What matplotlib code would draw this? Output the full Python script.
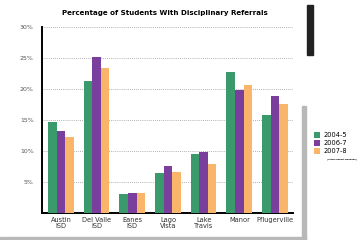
import matplotlib.pyplot as plt
import numpy as np
from matplotlib.patches import Rectangle

districts = ['Austin\nISD', 'Del Valle\nISD', 'Eanes\nISD', 'Lago\nVista', 'Lake\nTravis', 'Manor', 'Pflugerville']
years = ['2004-5', '2006-7', '2007-8']
y2004 = [14.6, 21.3, 3.1, 6.5, 9.5, 22.8, 15.8]
y2006 = [13.2, 25.2, 3.2, 7.6, 9.8, 19.9, 18.9]
y2007 = [12.3, 23.4, 3.3, 6.6, 7.9, 20.7, 17.6]
colors = ['#3a9a6c', '#7a3e9d', '#f9b66b']

fig = plt.figure(figsize=(3.62, 2.40), dpi=100)
fig.patch.set_facecolor('white')

# card shadow / binding strip
fig.patches.append(Rectangle((0.835, 0.0), 0.01, 0.56, transform=fig.transFigure,
                             color='#b8b8b8', zorder=0))
fig.patches.append(Rectangle((0.0, 0.0), 0.845, 0.012, transform=fig.transFigure,
                             color='#b8b8b8', zorder=0))
fig.patches.append(Rectangle((0.848, 0.77), 0.017, 0.21, transform=fig.transFigure,
                             color='#222222', zorder=0))

ax = fig.add_axes([0.116, 0.1125, 0.693, 0.775])
x = np.arange(len(districts))
w = 0.24
for i, (vals, c) in enumerate(zip([y2004, y2006, y2007], colors)):
    ax.bar(x + (i - 1) * w, vals, w, color=c, label=years[i], zorder=3)

ax.set_xlim(-0.53, 6.5)
ax.set_ylim(0, 30)
ax.set_yticks([5, 10, 15, 20, 25, 30])
ax.set_yticklabels(['5%', '10%', '15%', '20%', '25%', '30%'])
ax.set_xticks(x)
ax.set_xticklabels(districts, fontsize=4.8, linespacing=1.0, color='#333333')
ax.tick_params(axis='y', labelsize=4.5, colors='#555555', length=0, pad=6)
ax.tick_params(axis='x', length=0, pad=3)
ax.yaxis.grid(True, linestyle=(0, (1, 1.5)), color='#999999', linewidth=0.6)
for s in ['top', 'right']:
    ax.spines[s].set_visible(False)
ax.spines['left'].set_linewidth(1.4)
ax.spines['bottom'].set_linewidth(1.4)

fig.text(0.455, 0.945, 'Percentage of Students With Disciplinary Referrals',
         ha='center', va='center', fontsize=5.1, fontweight='bold', family='Liberation Sans Narrow')

leg = fig.legend(loc='upper left', bbox_to_anchor=(0.852, 0.475), frameon=False,
                 fontsize=4.8, handlelength=0.9, handleheight=0.9,
                 labelspacing=0.3, handletextpad=0.5)
fig.text(0.902, 0.335, '(Actual Report Deadline)', fontsize=1.5, fontweight='bold',
         family='Liberation Sans Narrow')

fig.savefig('out.png', dpi=100)
